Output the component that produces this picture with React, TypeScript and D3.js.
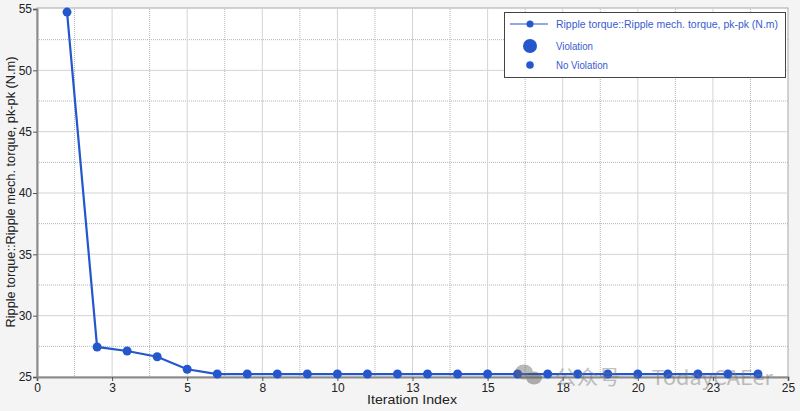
import { useEffect, useRef } from "react";
import * as d3 from "d3";

// iteration index and ripple torque pk-pk (N.m)
const iterations = [1, 2, 3, 4, 5, 6, 7, 8, 9, 10, 11, 12, 13, 14, 15, 16, 17, 18, 19, 20, 21, 22, 23, 24];
const rippleTorque = [
  54.75, 27.45, 27.12, 26.65, 25.63, 25.24, 25.24, 25.24, 25.24, 25.24, 25.24, 25.24,
  25.24, 25.24, 25.24, 25.24, 25.24, 25.24, 25.24, 25.24, 25.24, 25.24, 25.24, 25.24,
];
const xTicks = [0, 2.5, 5, 7.5, 10, 12.5, 15, 17.5, 20, 22.5, 25];
const xTickLabels = ["0", "3", "5", "8", "10", "13", "15", "18", "20", "23", "25"];
const yTicks = [25, 30, 35, 40, 45, 50, 55];
const legendItems = ["Ripple torque::Ripple mech. torque, pk-pk (N.m)", "Violation", "No Violation"];

export default function App() {
  const svgRef = useRef<SVGSVGElement>(null);

  useEffect(() => {
    if (!svgRef.current) return;
    const svg = d3.select(svgRef.current);
    svg.selectAll("*").remove();
    const width = 800;
    const height = 411;
    const left = 37;
    const right = 788;
    const top = 9;
    const bottom = 377;
    const blue = "#2456cc";
    const font = "Liberation Sans, Arial, sans-serif";

    svg.append("rect").attr("width", width).attr("height", height).attr("fill", "#f4f4f4");

    const x = d3.scaleLinear().domain([0, 25]).range([left, right]);
    const y = d3.scaleLinear().domain([25, 55]).range([bottom, top]);

    svg
      .append("rect")
      .attr("x", left)
      .attr("y", top - 1)
      .attr("width", right - left)
      .attr("height", bottom - top + 1)
      .attr("fill", "white")
      .attr("stroke", "#a8a8a8");

    const grid = svg.append("g");
    // minor dotted grid
    const xMinor = d3.range(1.25, 25, 2.5);
    const yMinor = d3.range(27.5, 55, 5);
    grid
      .selectAll(".vmin")
      .data(xMinor)
      .enter()
      .append("line")
      .attr("x1", (d) => x(d))
      .attr("x2", (d) => x(d))
      .attr("y1", top)
      .attr("y2", bottom)
      .attr("stroke", "#b4b4b4")
      .attr("stroke-dasharray", "1,1");
    grid
      .selectAll(".hmin")
      .data(yMinor)
      .enter()
      .append("line")
      .attr("x1", left)
      .attr("x2", right)
      .attr("y1", (d) => y(d))
      .attr("y2", (d) => y(d))
      .attr("stroke", "#b4b4b4")
      .attr("stroke-dasharray", "1,1");
    // major solid grid
    grid
      .selectAll(".vmaj")
      .data(xTicks.slice(1, -1))
      .enter()
      .append("line")
      .attr("x1", (d) => x(d))
      .attr("x2", (d) => x(d))
      .attr("y1", top)
      .attr("y2", bottom)
      .attr("stroke", "#d4d4d4");
    grid
      .selectAll(".hmaj")
      .data(yTicks.slice(1, -1))
      .enter()
      .append("line")
      .attr("x1", left)
      .attr("x2", right)
      .attr("y1", (d) => y(d))
      .attr("y2", (d) => y(d))
      .attr("stroke", "#d4d4d4");

    // axes
    const xAxis = d3
      .axisBottom(x)
      .tickValues(xTicks)
      .tickSize(4)
      .tickPadding(2)
      .tickFormat((_, i) => xTickLabels[i]);
    const gx = svg.append("g").attr("transform", `translate(0,${bottom})`).call(xAxis);
    const yAxis = d3.axisLeft(y).tickValues(yTicks).tickSize(4).tickPadding(1);
    const gy = svg.append("g").attr("transform", `translate(${left},0)`).call(yAxis);
    [gx, gy].forEach((g) => {
      g.select(".domain").attr("stroke", "#8a8a8a").attr("stroke-width", 2);
      g.selectAll(".tick line").attr("stroke", "#555");
      g.selectAll(".tick text")
        .attr("fill", "#222")
        .style("font-family", font)
        .style("font-size", "12px");
    });

    svg
      .append("text")
      .attr("x", 412)
      .attr("y", 404)
      .attr("text-anchor", "middle")
      .attr("fill", "#222")
      .attr("textLength", 90)
      .attr("lengthAdjust", "spacingAndGlyphs")
      .style("font-family", font)
      .style("font-size", "13px")
      .text("Iteration Index");
    svg
      .append("text")
      .attr("transform", `translate(15,192) rotate(-90)`)
      .attr("text-anchor", "middle")
      .attr("fill", "#222")
      .attr("textLength", 271)
      .attr("lengthAdjust", "spacingAndGlyphs")
      .style("font-family", font)
      .style("font-size", "12px")
      .text("Ripple torque::Ripple mech. torque, pk-pk (N.m)");

    // series
    const data = iterations.map((it, i) => ({ it, v: rippleTorque[i] }));
    const line = d3
      .line<{ it: number; v: number }>()
      .x((d) => x(d.it))
      .y((d) => y(d.v));
    svg
      .append("path")
      .datum(data)
      .attr("d", line)
      .attr("fill", "none")
      .attr("stroke", blue)
      .attr("stroke-width", 2.2);
    svg
      .selectAll(".pt")
      .data(data)
      .enter()
      .append("circle")
      .attr("cx", (d) => x(d.it))
      .attr("cy", (d) => y(d.v))
      .attr("r", 4.5)
      .attr("fill", blue);

    // watermark
    const wm = svg.append("g").attr("opacity", 0.45);
    wm.append("ellipse").attr("cx", 524).attr("cy", 372).attr("rx", 9).attr("ry", 7.5).attr("fill", "#666");
    wm.append("ellipse").attr("cx", 534).attr("cy", 378).attr("rx", 8).attr("ry", 6.5).attr("fill", "#555");
    wm.append("text")
      .attr("x", 555)
      .attr("y", 385)
      .attr("fill", "#777")
      .attr("textLength", 218)
      .attr("lengthAdjust", "spacingAndGlyphs")
      .style("font-family", "Noto Sans CJK SC, sans-serif")
      .style("font-size", "20px")
      .text("公众号 · TodayCAEer");

    // legend
    const lg = svg.append("g");
    lg.append("rect")
      .attr("x", 504.5)
      .attr("y", 12.5)
      .attr("width", 281)
      .attr("height", 65)
      .attr("fill", "white")
      .attr("stroke", "#444");
    lg.append("line")
      .attr("x1", 510)
      .attr("x2", 548)
      .attr("y1", 24)
      .attr("y2", 24)
      .attr("stroke", blue)
      .attr("stroke-width", 1.2);
    lg.append("circle").attr("cx", 530).attr("cy", 24).attr("r", 3.5).attr("fill", blue);
    lg.append("circle").attr("cx", 530).attr("cy", 46).attr("r", 7).attr("fill", blue);
    lg.append("circle").attr("cx", 530).attr("cy", 65).attr("r", 3.8).attr("fill", blue);
    lg.selectAll(".lt")
      .data(legendItems)
      .enter()
      .append("text")
      .attr("x", 556)
      .attr("y", (_, i) => [28, 50, 69][i])
      .attr("fill", "#3a5ccf")
      .attr("textLength", (_, i) => [222, 37, 52][i])
      .attr("lengthAdjust", "spacingAndGlyphs")
      .style("font-family", font)
      .style("font-size", "11px")
      .text((d) => d);
  }, []);

  return (
    <svg
      ref={svgRef}
      width={800}
      height={411}
      viewBox="0 0 800 411"
      style={{ position: "absolute", left: 0, top: 0, display: "block" }}
    />
  );
}
